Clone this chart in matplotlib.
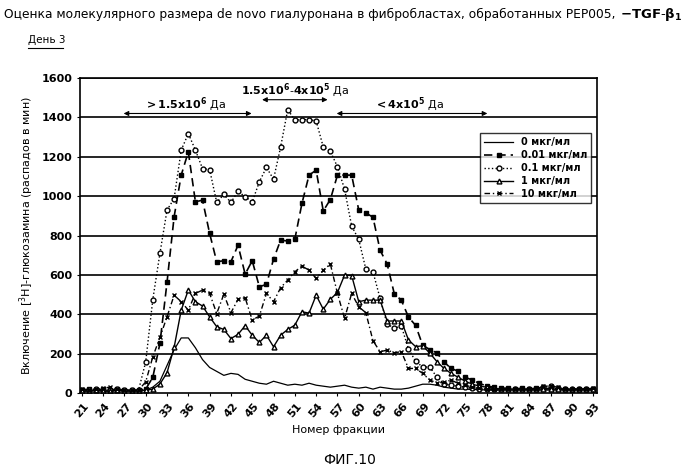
import matplotlib
matplotlib.use("Agg")
import matplotlib.pyplot as plt
import numpy as np

fractions = list(range(21, 94))
tick_labels = [str(v) for v in range(21, 94, 3)]

s0 = [10,12,10,12,10,12,10,10,12,15, 30,60,140,220,280,280,230,170,130,110,
      90,100,95,70,60,50,45,60,50,40, 45,40,50,40,35,30,35,40,30,25,
      30,20,30,25,20,20,25,35,45,45, 40,30,25,20,20,18,18,15,15,15,
      15,15,15,15,15,15,15,15,15,15, 15,15,15]
s001 = [15,20,15,20,15,20,15,15,15,20,
        80,252,562,895,1107,1225,971,980,811,667,
        672,667,751,604,672,540,552,680,777,772,
        782,963,1107,1132,925,983,1107,1107,1107,929,
        915,893,726,655,505,471,386,344,243,221,
        204,158,125,111,80,66,49,36,30,25,
        25,20,25,20,25,20,25,20,20,15, 20,20,20]
s01 = [15,15,20,15,15,20,15,15,15,159,
       475,709,929,988,1234,1318,1234,1140,1135,968,
       1009,968,1025,997,971,1073,1146,1086,1250,1440,
       1386,1389,1389,1382,1250,1228,1149,1036,848,780,
       629,616,481,350,330,340,224,162,132,132,
       81,47,40,35,30,25,20,20,20,20,
       20,20,20,20,20,30,35,25,20,20, 20,20,20]
s1 = [10,10,15,10,10,15,10,10,10,15,
      20,46,103,232,421,523,464,442,387,337,
      323,277,298,342,294,257,294,235,294,323,
      345,413,406,497,426,476,511,599,597,464,
      472,472,472,366,366,366,270,236,240,203,
      160,125,100,80,60,45,35,30,25,20,
      20,20,20,20,20,20,20,20,20,20, 20,20,20]
s10 = [20,15,20,25,30,20,15,15,15,57,
       184,283,387,497,464,421,506,523,506,404,
       502,408,476,484,371,391,506,464,535,574,
       616,645,624,582,624,655,506,379,506,438,
       408,266,210,218,205,210,125,125,100,66,
       52,55,66,49,40,30,25,20,20,20,
       20,20,20,20,20,35,37,30,20,20, 20,20,25]
labels = ["0", "0.01", "0.1", "1", "10"]

fig = plt.figure(figsize=(7.0, 4.73), dpi=100)
ax = fig.add_axes([0.114, 0.169, 0.739, 0.666])
x = np.array(fractions)
ax.plot(x, s0, color="black", lw=0.9, label=labels[0])
ax.plot(x, s001, color="black", lw=1.2, ls=(0, (5, 3)), marker="s", ms=3, label=labels[1])
ax.plot(x, s01, color="black", lw=1.0, ls=":", marker="o", ms=3.5, mfc="white", label=labels[2])
ax.plot(x, s1, color="black", lw=1.0, marker="^", ms=3.5, mfc="white", label=labels[3])
ax.plot(x, s10, color="black", lw=1.0, ls=(0, (4, 2, 1, 2)), marker="x", ms=3.5, label=labels[4])

ax.set_xlim(20.72, 93.56)
ax.set_ylim(0, 1600)
ax.set_yticks(range(0, 1601, 200))
for y in range(200, 1601, 200):
    ax.axhline(y, color="black", lw=1.2, zorder=0)
ax.set_xticks(range(21, 94, 3))
ax.set_xticklabels(tick_labels, rotation=50, fontsize=8, fontweight="bold")
for t in ax.get_yticklabels():
    t.set_fontsize(8); t.set_fontweight("bold")
ax.tick_params(length=2)
for s in ax.spines.values():
    s.set_linewidth(1.2)

ax.set_xlabel("Номер фракции", fontsize=8)
ax.set_ylabel("Включение [$^3$H]-глюкозамина (распадов в мин)", fontsize=8)

arr = dict(arrowstyle="<|-|>", color="black", lw=0.8, mutation_scale=7)
ax.annotate("", xy=(26.5, 1420), xytext=(45.3, 1420), arrowprops=arr)
ax.annotate("", xy=(46, 1490), xytext=(56, 1490), arrowprops=arr)
ax.annotate("", xy=(56.5, 1420), xytext=(78.5, 1420), arrowprops=arr)
ax.text(35.5, 1450, r"$\mathbf{>1.5x10^6}$ Да", ha="center", fontsize=8)
ax.text(51, 1520, r"$\mathbf{1.5x10^6\text{-}4x10^5}$ Да", ha="center", fontsize=8)
ax.text(67, 1450, r"$\mathbf{<4x10^5}$ Да", ha="center", fontsize=8)

leg = ax.legend(loc="upper left", bbox_to_anchor=(0.765, 0.84), fontsize=7,
                frameon=True, fancybox=False, edgecolor="black", handlelength=3,
                borderpad=0.4, labelspacing=0.3)
for t, l in zip(leg.get_texts(), labels):
    t.set_text(l + " мкг/мл")
    t.set_fontweight("bold")
leg.get_frame().set_linewidth(1.0)

title = fig.text(0.005, 0.962, "Оценка молекулярного размера de novo гиалуронана в фибробластах, обработанных PEP005, ",
                 fontsize=8.8, va="baseline")
fig.canvas.draw()
bb = title.get_window_extent().transformed(fig.transFigure.inverted())
fig.text(bb.x1 + 0.002, 0.962, r"$\mathbf{-TGF\text{-}\beta_1}$", fontsize=9.5, va="baseline")
fig.text(0.04, 0.91, "День 3", fontsize=7.5, va="baseline")
fig.add_artist(plt.Line2D([0.04, 0.09], [0.898, 0.898], color="black", lw=0.8))
fig.text(0.5, 0.018, "ФИГ.10", fontsize=10, ha="center")
fig.savefig("out.png", dpi=100)
